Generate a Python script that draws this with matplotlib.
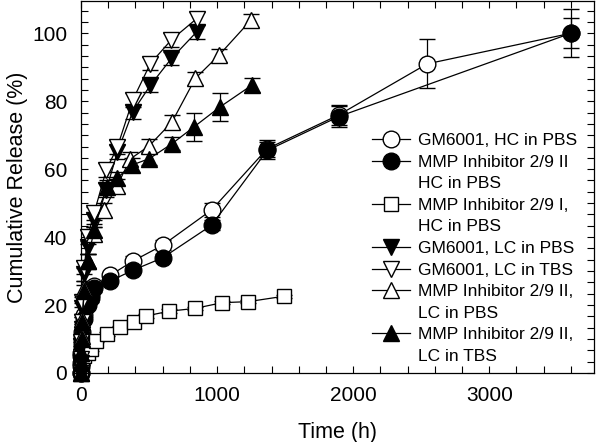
import matplotlib
matplotlib.use("Agg")
import matplotlib.pyplot as plt
from matplotlib.ticker import MultipleLocator
from matplotlib.lines import Line2D

plt.rcParams['font.family'] = ['Liberation Sans', 'DejaVu Sans']

# GM6001, HC in PBS (open circle)
t_gm_hc = [0, 1, 2, 4, 8, 24, 48, 72, 96, 216, 384, 600, 960, 1368, 1896, 2544, 3600]
y_gm_hc = [0, 3, 6, 9, 12, 17, 21, 23, 25.5, 28.8, 33, 37.6, 48, 66, 76, 91, 100]
e_gm_hc = [0, 0.5, 0.5, 1, 1, 1, 1, 1, 1, 1, 1.5, 1.5, 2, 2.5, 3, 7.2, 4.4]

# MMP Inhibitor 2/9 II, HC in PBS (filled circle)
t_ii_hc = [0, 1, 2, 4, 8, 24, 48, 72, 96, 216, 384, 600, 960, 1368, 1896, 3600]
y_ii_hc = [0, 2, 5, 8, 11, 16, 20, 22, 24.9, 27.1, 30.3, 33.9, 43.5, 65.5, 75.5, 100]
e_ii_hc = [0, 0.5, 0.5, 1, 1, 1, 1, 1, 1, 1, 1, 1, 1.5, 2.5, 3, 7]

# MMP Inhibitor 2/9 I, HC in PBS (open square)
t_i_hc = [0, 1, 2, 4, 8, 24, 48, 72, 110, 194, 288, 386, 480, 649, 836, 1038, 1228, 1493]
y_i_hc = [0, 1, 2, 3, 4, 5, 6, 7, 9.5, 11.5, 13.4, 15.1, 16.8, 18.2, 19.0, 20.7, 21.0, 22.6]
e_i_hc = [0, 0.3, 0.3, 0.5, 0.5, 0.5, 0.5, 0.5, 0.5, 0.5, 0.5, 0.5, 0.5, 0.5, 0.5, 0.5, 0.5, 0.5]

# GM6001, LC in PBS (filled down triangle)
t_gm_lc_pbs = [0, 1, 2, 4, 8, 24, 48, 96, 185, 268, 380, 510, 665, 850]
y_gm_lc_pbs = [0, 3, 8, 13, 19, 29, 37, 45, 53.8, 65.1, 76.9, 84.7, 92.6, 100.4]
e_gm_lc_pbs = [0, 1, 1, 1.5, 1.5, 2, 2, 2, 2, 2, 2, 2, 2, 2]

# GM6001, LC in TBS (open down triangle)
t_gm_lc_tbs = [0, 1, 2, 4, 8, 24, 48, 96, 185, 268, 380, 510, 665, 850]
y_gm_lc_tbs = [0, 4, 9, 15, 21, 31, 40, 47, 59.7, 66.6, 80.3, 91.1, 98.1, 104.3]
e_gm_lc_tbs = [0, 1, 1, 1.5, 1.5, 2, 2, 2, 2, 2, 2, 2, 2, 2]

# MMP Inhibitor 2/9 II, LC in PBS (open up triangle)
t_ii_lc_pbs = [0, 1, 2, 4, 8, 24, 48, 96, 168, 264, 362, 502, 669, 840, 1013, 1247]
y_ii_lc_pbs = [0, 3, 6, 11, 16, 25, 33, 41, 48, 55, 63, 66.9, 73.9, 86.7, 93.5, 103.8]
e_ii_lc_pbs = [0, 1, 1, 1.5, 1.5, 2, 2, 2, 2, 2, 2, 2, 2, 2, 2, 2]

# MMP Inhibitor 2/9 II, LC in TBS (filled up triangle)
t_ii_lc_tbs = [0, 1, 2, 4, 8, 24, 48, 96, 190, 263, 374, 502, 669, 829, 1021, 1255]
y_ii_lc_tbs = [0, 3, 6, 10, 15, 24, 33, 42, 54.8, 57.3, 61.2, 63.1, 67.5, 72.4, 78.3, 84.7]
e_ii_lc_tbs = [0, 1, 1, 1.5, 1.5, 2, 2, 2, 2, 2, 2, 2, 2, 4, 4, 2]

labels = ["GM6001, HC in PBS",
          "MMP Inhibitor 2/9 II\nHC in PBS",
          "MMP Inhibitor 2/9 I,\nHC in PBS",
          "GM6001, LC in PBS",
          "GM6001, LC in TBS",
          "MMP Inhibitor 2/9 II,\nLC in PBS",
          "MMP Inhibitor 2/9 II,\nLC in TBS"]

series = [
    (t_gm_hc, y_gm_hc, e_gm_hc, 'o', 'white', 12),
    (t_ii_hc, y_ii_hc, e_ii_hc, 'o', 'black', 12),
    (t_i_hc, y_i_hc, e_i_hc, 's', 'white', 10.5),
    (t_gm_lc_pbs, y_gm_lc_pbs, e_gm_lc_pbs, 'v', 'black', 11),
    (t_gm_lc_tbs, y_gm_lc_tbs, e_gm_lc_tbs, 'v', 'white', 11),
    (t_ii_lc_pbs, y_ii_lc_pbs, e_ii_lc_pbs, '^', 'white', 11),
    (t_ii_lc_tbs, y_ii_lc_tbs, e_ii_lc_tbs, '^', 'black', 11),
]

fig = plt.figure(figsize=(6.0, 4.42), dpi=100)
ax = fig.add_axes([81/600, 69/442, 513/600, 372/442])

for (t, y, e, m, fc, ms), lab in zip(series, labels):
    eb = ax.errorbar(t, y, yerr=e, fmt='-', color='black', lw=0.9,
                     marker=m, mfc=fc, mec='black', mew=1.0, ms=ms,
                     capsize=5.5, capthick=0.9, elinewidth=0.9,
                     ecolor='black', label=lab, zorder=3)
    for c in eb.get_children():
        c.set_clip_on(False)

ax.set_xlim(0, 3770)
ax.set_ylim(0, 109.5)
ax.xaxis.set_major_locator(MultipleLocator(1000))
ax.xaxis.set_minor_locator(MultipleLocator(200))
ax.yaxis.set_major_locator(MultipleLocator(20))
ax.yaxis.set_minor_locator(MultipleLocator(20/6))
ax.tick_params(which='both', direction='in', top=True, right=True,
               length=5, width=0.8, labelsize=15)
ax.tick_params(axis='x', pad=9.5)
ax.tick_params(axis='y', pad=10)
for s in ax.spines.values():
    s.set_linewidth(0.9)

ax.set_xlabel("Time (h)", fontsize=15.5, labelpad=12)
ax.set_ylabel("Cumulative Release (%)", fontsize=15.5, labelpad=3)

# legend: marker aligned with first line of each (possibly two-line) label
leg_handles, leg_labels = [], []
for (t, y, e, m, fc, ms), lab in zip(series, labels):
    lines = lab.split("\n")
    leg_handles.append(Line2D([0], [0], color='black', lw=0.9, marker=m,
                              mfc=fc, mec='black', mew=1.0, ms=ms))
    leg_labels.append(lines[0])
    for extra in lines[1:]:
        leg_handles.append(Line2D([0], [0], linestyle='none', marker='none'))
        leg_labels.append(extra)

leg = ax.legend(leg_handles, leg_labels, loc='upper left',
                bbox_to_anchor=((372-81)/513, (373-133)/372),
                frameon=False, fontsize=12.5, borderpad=0, borderaxespad=0,
                handlelength=2.2, handletextpad=0.45, labelspacing=0.37)

fig.savefig("out.png", dpi=100)
